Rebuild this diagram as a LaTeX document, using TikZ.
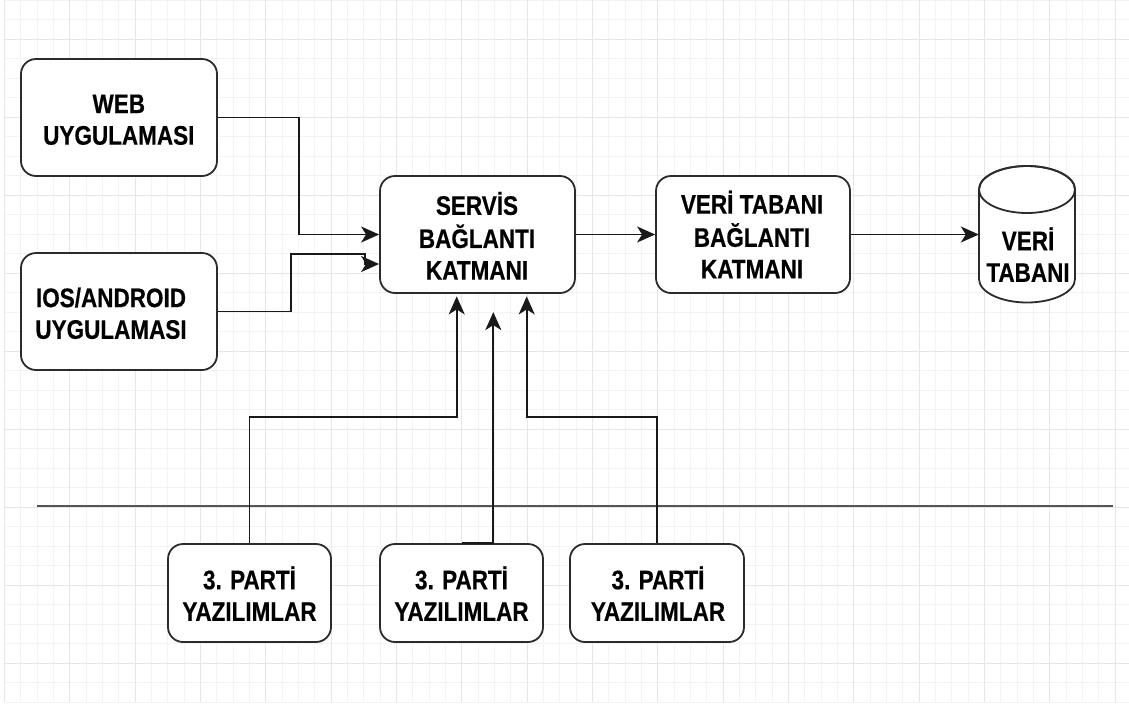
\documentclass[tikz,border=0pt]{standalone}
\usepackage{fontspec}
\setmainfont{Liberation Sans}
\newfontfamily\heavyfont[FakeBold=0.5]{Liberation Sans Bold}
\usepackage{graphicx}
\usetikzlibrary{arrows.meta,calc}

\definecolor{gridminor}{HTML}{F3F3F3}
\definecolor{gridmajor}{HTML}{E6E6E6}
\definecolor{edge}{HTML}{2B2B2B}
\definecolor{rule}{HTML}{555555}

% two- or three-line bold caption, slightly stretched vertically
\newcommand\stacked[1]{\scalebox{1}[1.19]{\begin{tabular}{@{}c@{}}#1\end{tabular}}}

\begin{document}
\begin{tikzpicture}[x=1pt,y=1pt,yscale=-1,
  minorline/.style={draw=gridminor, line width=0.9pt},
  majorline/.style={draw=gridmajor, line width=1pt},
  card/.style={draw=edge, line width=1.8pt, fill=white, rounded corners=15pt, inner sep=0pt},
  txt/.style={inner sep=0pt, font=\fontsize{22.5}{26.6}\heavyfont},
  link/.style={draw=black!90, line width=1.9pt},
  arr/.style={link, -{Stealth[length=18pt,width=16pt,inset=5pt]}},
]
\useasboundingbox (0,0) rectangle (1129,705);
\fill[white] (0,0) rectangle (1129,705);

% background grid
\foreach \i in {0,...,68}{\draw[minorline] ({4.6+16.33*\i},0) -- ({4.6+16.33*\i},702);}
\foreach \j in {0,...,36}{\draw[minorline] (4.6,{0.3+19.5*\j}) -- (1129,{0.3+19.5*\j});}
\foreach \i in {0,...,17}{\draw[majorline] ({4.6+65.32*\i},0) -- ({4.6+65.32*\i},702);}
\foreach \k in {0,...,8}{\draw[majorline] (4.6,{39.3+78*\k}) -- (1129,{39.3+78*\k});}

% boundary line
\coordinate (ruleL) at (36.7,506);
\coordinate (ruleR) at (1113.3,506);
\draw[draw=rule, line width=2.5pt] (ruleL) -- (ruleR);

% boxes
\node[card, minimum width=196pt, minimum height=117pt] (web) at (119,117.5) {};
\node[card, minimum width=196pt, minimum height=117pt] (ios) at (119,311.5) {};
\node[card, minimum width=195pt, minimum height=117pt] (servis) at (477.5,234.5) {};
\node[card, minimum width=194pt, minimum height=117pt] (dbc) at (753,234.5) {};
\node[card, minimum width=163pt, minimum height=98pt] (p1) at (249.5,593) {};
\node[card, minimum width=163pt, minimum height=98pt] (p2) at (461.5,593) {};
\node[card, minimum width=174pt, minimum height=98pt] (p3) at (657,593) {};

% database cylinder
\node[inner sep=0pt, minimum width=96pt, minimum height=137pt] (db) at (1027,234.5) {};
\filldraw[draw=edge, fill=white, line width=1.8pt]
  (979,189.5) -- (979,279) arc[start angle=180, end angle=0, x radius=48, y radius=23.5]
  -- (1075,189.5) arc[start angle=0, end angle=-180, x radius=48, y radius=23.5] -- cycle;
\draw[draw=edge, line width=1.8pt] (1027,189.5) ellipse[x radius=48, y radius=23.5];

% connectors
\draw[arr] (web.east) -- ++(81,0) |- (servis.west);
\draw[arr] (ios.east) -- ++(73,0) -- ++(0,-57.5) -- ++(74,0) -- ++(0,10) -- ($(servis.west)+(0,29.5)$);
\draw[arr] (servis.east) -- (dbc.west);
\draw[arr] (dbc.east) -- (db.west);
\draw[arr] (p1.north) -- ++(0,-125.7) -| ($(servis.south)+(-20.8,2.5)$);
\draw[arr] (p2.north) -- ++(31.8,0) -- ++(0,-231);
\draw[arr] (p3.north) -- ++(0,-125.7) -| ($(servis.south)+(49.2,2.5)$);

% captions
\node[txt] (webT) at (118.8,122.5) {\stacked{WEB\\UYGULAMASI}};
\node[txt] (iosT) at (111,316.6) {\stacked{IOS/ANDROID\\UYGULAMASI}};
\node[txt] (servisT) at (477,240.5) {\stacked{SERVİS\\BAĞLANTI\\KATMANI}};
\node[txt] (dbcT) at (752,239.3) {\stacked{VERİ TABANI\\BAĞLANTI\\KATMANI}};
\node[txt] (dbT) at (1028,259.3) {\stacked{VERİ\\TABANI}};
\node[txt] (p1T) at (249.5,598.3) {\stacked{3. PARTİ\\YAZILIMLAR}};
\node[txt] (p2T) at (461.5,598.3) {\stacked{3. PARTİ\\YAZILIMLAR}};
\node[txt] (p3T) at (658,598.3) {\stacked{3. PARTİ\\YAZILIMLAR}};
\end{tikzpicture}
\end{document}
